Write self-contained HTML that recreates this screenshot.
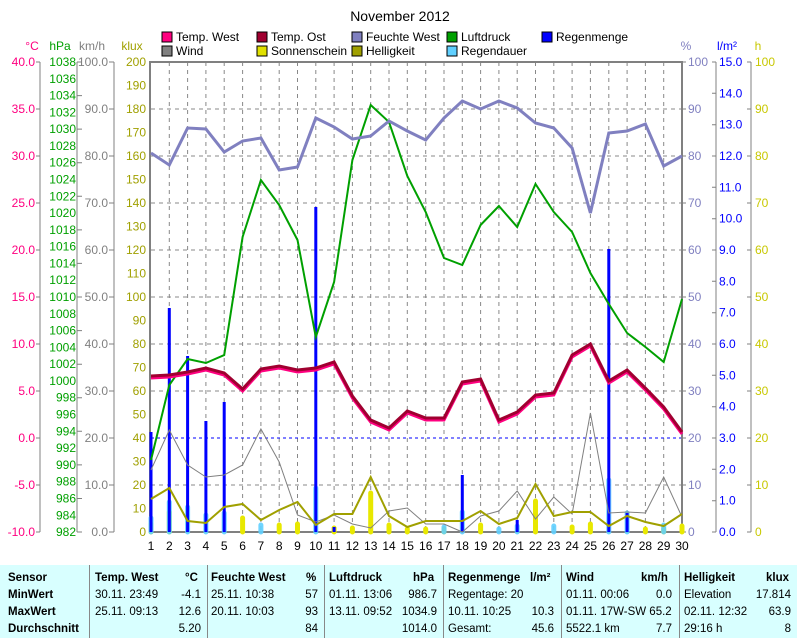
<!DOCTYPE html>
<html><head><meta charset="utf-8"><style>
body{margin:0;background:#fff;width:797px;height:638px;overflow:hidden;font-family:"Liberation Sans",sans-serif}
svg text{font-family:"Liberation Sans",sans-serif;font-size:12px}
.tb{position:absolute;left:0;top:565px;width:797px;height:73px;background:#d8ffff;font-size:11.5px;font-family:"Liberation Sans",sans-serif}
.c{position:absolute;top:0;height:73px;border-left:1px solid #888}
.r{position:absolute;white-space:nowrap}
b{font-weight:bold}
</style></head><body>
<svg width="797" height="565" style="position:absolute;left:0;top:0">
<text x="400" y="21" text-anchor="middle" style="font-size:14px">November 2012</text>
<g style="font-size:11.5px">
<rect x="162" y="32" width="10" height="10" fill="#ff0080" stroke="#000"/><text x="176" y="41">Temp. West</text>
<rect x="162" y="46" width="10" height="10" fill="#808080" stroke="#000"/><text x="176" y="55">Wind</text>
<rect x="257" y="32" width="10" height="10" fill="#a00030" stroke="#000"/><text x="271" y="41">Temp. Ost</text>
<rect x="257" y="46" width="10" height="10" fill="#e0e000" stroke="#000"/><text x="271" y="55">Sonnenschein</text>
<rect x="352" y="32" width="10" height="10" fill="#8080c0" stroke="#000"/><text x="366" y="41">Feuchte West</text>
<rect x="352" y="46" width="10" height="10" fill="#a0a000" stroke="#000"/><text x="366" y="55">Helligkeit</text>
<rect x="447" y="32" width="10" height="10" fill="#00a000" stroke="#000"/><text x="461" y="41">Luftdruck</text>
<rect x="447" y="46" width="10" height="10" fill="#60d0ff" stroke="#000"/><text x="461" y="55">Regendauer</text>
<rect x="542" y="32" width="10" height="10" fill="#0000ff" stroke="#000"/><text x="556" y="41">Regenmenge</text>
</g>
<text x="32" y="50" text-anchor="middle" fill="#ff0080">°C</text>
<text x="60" y="50" text-anchor="middle" fill="#00a000">hPa</text>
<text x="92" y="50" text-anchor="middle" fill="#808080">km/h</text>
<text x="132" y="50" text-anchor="middle" fill="#a0a000">klux</text>
<text x="686" y="50" text-anchor="middle" fill="#8080c0">%</text>
<text x="727" y="50" text-anchor="middle" fill="#0000ff">l/m²</text>
<text x="758" y="50" text-anchor="middle" fill="#c8c800">h</text>
<!-- grid -->
<g stroke="#888" stroke-dasharray="4,4" stroke-width="1">
<path d="M169.3 62V532M187.6 62V532M205.9 62V532M224.2 62V532M242.6 62V532M260.9 62V532M279.2 62V532M297.5 62V532M315.8 62V532M334.1 62V532M352.4 62V532M370.7 62V532M389 62V532M407.3 62V532M425.7 62V532M444 62V532M462.3 62V532M480.6 62V532M498.9 62V532M517.2 62V532M535.5 62V532M553.8 62V532M572.1 62V532M590.4 62V532M608.8 62V532M627.1 62V532M645.4 62V532M663.7 62V532"/>
<path d="M151 109H682M151 156H682M151 203H682M151 250H682M151 297H682M151 344H682M151 391H682M151 485H682"/>
</g>
<path d="M151 438H682" stroke="#0000ff" stroke-dasharray="3,3"/>
<!-- axes -->
<g stroke="#808080" fill="none">
<rect x="150" y="62" width="532" height="470" stroke-width="2"/>
<path d="M40 62V532M77 62V532M114 62V532M716 62V532M751 62V532"/>
<path d="M36 62h4M36 109h4M36 156h4M36 203h4M36 250h4M36 297h4M36 344h4M36 391h4M36 438h4M36 485h4M36 532h4"/>
<path d="M77 62h5M77 95.6h5M77 129.1h5M77 162.7h5M77 196.3h5M77 229.9h5M77 263.4h5M77 297h5M77 330.6h5M77 364.2h5M77 397.7h5M77 431.3h5M77 464.9h5M77 498.5h5M77 532h5"/>
<path d="M109 62h5M109 109h5M109 156h5M109 203h5M109 250h5M109 297h5M109 344h5M109 391h5M109 438h5M109 485h5M109 532h5"/>
<path d="M682 62h4M682 109h4M682 156h4M682 203h4M682 250h4M682 297h4M682 344h4M682 391h4M682 438h4M682 485h4M682 532h4"/>
<path d="M716 62h-4M716 93.3h-4M716 124.7h-4M716 156h-4M716 187.3h-4M716 218.7h-4M716 250h-4M716 281.3h-4M716 312.7h-4M716 344h-4M716 375.3h-4M716 406.7h-4M716 438h-4M716 469.3h-4M716 500.7h-4M716 532h-4"/>
<path d="M751 62h-4M751 109h-4M751 156h-4M751 203h-4M751 250h-4M751 297h-4M751 344h-4M751 391h-4M751 438h-4M751 485h-4M751 532h-4"/>
</g>
<g fill="#ff0080" text-anchor="end" dominant-baseline="central">
<text x="35" y="62">40.0</text><text x="35" y="109">35.0</text><text x="35" y="156">30.0</text><text x="35" y="203">25.0</text><text x="35" y="250">20.0</text><text x="35" y="297">15.0</text><text x="35" y="344">10.0</text><text x="35" y="391">5.0</text><text x="35" y="438">0.0</text><text x="35" y="485">-5.0</text><text x="35" y="532">-10.0</text>
</g>
<g fill="#00a000" text-anchor="end" dominant-baseline="central">
<text x="76" y="62">1038</text><text x="76" y="78.8">1036</text><text x="76" y="95.6">1034</text><text x="76" y="112.4">1032</text><text x="76" y="129.1">1030</text><text x="76" y="146">1028</text><text x="76" y="162.7">1026</text><text x="76" y="179.5">1024</text><text x="76" y="196.3">1022</text><text x="76" y="213.1">1020</text><text x="76" y="229.9">1018</text><text x="76" y="246.6">1016</text><text x="76" y="263.4">1014</text><text x="76" y="280.2">1012</text><text x="76" y="297">1010</text><text x="76" y="313.8">1008</text><text x="76" y="330.6">1006</text><text x="76" y="347.4">1004</text><text x="76" y="364.2">1002</text><text x="76" y="381">1000</text><text x="76" y="397.7">998</text><text x="76" y="414.5">996</text><text x="76" y="431.3">994</text><text x="76" y="448.1">992</text><text x="76" y="464.9">990</text><text x="76" y="481.7">988</text><text x="76" y="498.5">986</text><text x="76" y="515.3">984</text><text x="76" y="532">982</text>
</g>
<g fill="#808080" text-anchor="end" dominant-baseline="central">
<text x="108" y="62">100.0</text><text x="108" y="109">90.0</text><text x="108" y="156">80.0</text><text x="108" y="203">70.0</text><text x="108" y="250">60.0</text><text x="108" y="297">50.0</text><text x="108" y="344">40.0</text><text x="108" y="391">30.0</text><text x="108" y="438">20.0</text><text x="108" y="485">10.0</text><text x="108" y="532">0.0</text>
</g>
<g fill="#a0a000" text-anchor="end" dominant-baseline="central">
<text x="146" y="62">200</text><text x="146" y="85.5">190</text><text x="146" y="109">180</text><text x="146" y="132.5">170</text><text x="146" y="156">160</text><text x="146" y="179.5">150</text><text x="146" y="203">140</text><text x="146" y="226.5">130</text><text x="146" y="250">120</text><text x="146" y="273.5">110</text><text x="146" y="297">100</text><text x="146" y="320.5">90</text><text x="146" y="344">80</text><text x="146" y="367.5">70</text><text x="146" y="391">60</text><text x="146" y="414.5">50</text><text x="146" y="438">40</text><text x="146" y="461.5">30</text><text x="146" y="485">20</text><text x="146" y="508.5">10</text><text x="146" y="532">0</text>
</g>
<g fill="#8080c0" dominant-baseline="central">
<text x="688" y="62">100</text><text x="688" y="109">90</text><text x="688" y="156">80</text><text x="688" y="203">70</text><text x="688" y="250">60</text><text x="688" y="297">50</text><text x="688" y="344">40</text><text x="688" y="391">30</text><text x="688" y="438">20</text><text x="688" y="485">10</text><text x="688" y="532">0</text>
</g>
<g fill="#0000ff" dominant-baseline="central">
<text x="719" y="62">15.0</text><text x="719" y="93.3">14.0</text><text x="719" y="124.7">13.0</text><text x="719" y="156">12.0</text><text x="719" y="187.3">11.0</text><text x="719" y="218.7">10.0</text><text x="719" y="250">9.0</text><text x="719" y="281.3">8.0</text><text x="719" y="312.7">7.0</text><text x="719" y="344">6.0</text><text x="719" y="375.3">5.0</text><text x="719" y="406.7">4.0</text><text x="719" y="438">3.0</text><text x="719" y="469.3">2.0</text><text x="719" y="500.7">1.0</text><text x="719" y="532">0.0</text>
</g>
<g fill="#c8c800" dominant-baseline="central">
<text x="755" y="62">100</text><text x="755" y="109">90</text><text x="755" y="156">80</text><text x="755" y="203">70</text><text x="755" y="250">60</text><text x="755" y="297">50</text><text x="755" y="344">40</text><text x="755" y="391">30</text><text x="755" y="438">20</text><text x="755" y="485">10</text><text x="755" y="532">0</text>
</g>
<g text-anchor="middle">
<text x="151" y="550">1</text><text x="169.3" y="550">2</text><text x="187.6" y="550">3</text><text x="205.9" y="550">4</text><text x="224.2" y="550">5</text><text x="242.6" y="550">6</text><text x="260.9" y="550">7</text><text x="279.2" y="550">8</text><text x="297.5" y="550">9</text><text x="315.8" y="550">10</text><text x="334.1" y="550">11</text><text x="352.4" y="550">12</text><text x="370.7" y="550">13</text><text x="389" y="550">14</text><text x="407.3" y="550">15</text><text x="425.7" y="550">16</text><text x="444" y="550">17</text><text x="462.3" y="550">18</text><text x="480.6" y="550">19</text><text x="498.9" y="550">20</text><text x="517.2" y="550">21</text><text x="535.5" y="550">22</text><text x="553.8" y="550">23</text><text x="572.1" y="550">24</text><text x="590.4" y="550">25</text><text x="608.8" y="550">26</text><text x="627.1" y="550">27</text><text x="645.4" y="550">28</text><text x="663.7" y="550">29</text><text x="682" y="550">30</text>
</g>
<!-- sunshine bars -->
<g stroke="#e8e800" stroke-width="5" stroke-linecap="round">
<path d="M151 532V524M169.3 532V512M242.6 532V518M279.2 532V525M297.5 532V524M334.1 532V528M352.4 532V528M370.7 532V493M389 532V525M407.3 532V529M425.7 532V529M444 532V529M480.6 532V525M535.5 532V501M572.1 532V527M590.4 532V524M645.4 532V529M663.7 532V529M682 532V526"/>
</g>
<!-- regendauer -->
<g stroke="#60d0ff" stroke-width="5" stroke-linecap="round" opacity="0.9">
<path d="M151 532V518M169.3 532V502M187.6 532V507M205.9 532V515M224.2 532V513M260.9 532V525M315.8 532V488M444 532V527M462.3 532V512M498.9 532V529M517.2 532V526M553.8 532V526M608.8 532V480M627.1 532V513M663.7 532V525"/>
</g>
<!-- rain -->
<g stroke="#0000ff" stroke-width="3">
<path d="M151 532V432M169.3 532V308M187.6 532V356M205.9 532V421M224.2 532V402M315.8 532V207M334.1 532V527M462.3 532V475M517.2 532V520M608.8 532V249M627.1 532V513"/>
</g>
<!-- wind -->
<polyline fill="none" stroke="#808080" stroke-width="1" points="151,470 169.3,430 187.6,465 205.9,477 224.2,475 242.6,465 260.9,429 279.2,462 297.5,515 315.8,522 334.1,515 352.4,524 370.7,528 389,511 407.3,508 425.7,524 444,524 462.3,532 480.6,516 498.9,511 517.2,491 535.5,519 553.8,497 572.1,514 590.4,413 608.8,513 627.1,512 645.4,513 663.7,477 682,517"/>
<!-- helligkeit -->
<polyline fill="none" stroke="#a0a000" stroke-width="2" points="151,499 169.3,488 187.6,521 205.9,523 224.2,507 242.6,504 260.9,520 279.2,510 297.5,502 315.8,525 334.1,514 352.4,514 370.7,477 389,516 407.3,527 425.7,521 444,521 462.3,521 480.6,511 498.9,524 517.2,518 535.5,484 553.8,516 572.1,512 590.4,512 608.8,526 627.1,516 645.4,522 663.7,526 682,514"/>
<!-- pressure -->
<polyline fill="none" stroke="#00a000" stroke-width="2" points="151,460 169.3,385 187.6,359 205.9,363 224.2,355 242.6,237 260.9,180 279.2,205 297.5,240 315.8,337 334.1,282 352.4,160 370.7,105 389,122 407.3,176 425.7,212 444,258 462.3,265 480.6,225 498.9,206 517.2,227 535.5,184 553.8,212 572.1,232 590.4,273 608.8,304 627.1,333 645.4,347 663.7,362 682,299"/>
<!-- humidity -->
<polyline fill="none" stroke="#8080c0" stroke-width="3" points="151,153 169.3,165 187.6,128 205.9,129 224.2,152 242.6,141 260.9,138 279.2,170 297.5,167 315.8,118 334.1,127 352.4,139 370.7,136 389,121 407.3,131 425.7,140 444,118 462.3,101 480.6,109 498.9,101 517.2,108 535.5,123 553.8,128 572.1,148 590.4,213 608.8,133 627.1,131 645.4,124 663.7,166 682,156"/>
<!-- temps -->
<polyline fill="none" stroke="#ff0080" stroke-width="3" points="151,378 169.3,377 187.6,374 205.9,370 224.2,375 242.6,391 260.9,371 279.2,368 297.5,372 315.8,370 334.1,364 352.4,398 370.7,422 389,430 407.3,413 425.7,420 444,420 462.3,384 480.6,381 498.9,422 517.2,414 535.5,397 553.8,395 572.1,357 590.4,346 608.8,383 627.1,372 645.4,390 663.7,409 682,434"/>
<polyline fill="none" stroke="#a00030" stroke-width="3" points="151,376 169.3,375 187.6,372 205.9,368 224.2,373 242.6,389 260.9,369 279.2,366 297.5,370 315.8,368 334.1,362 352.4,396 370.7,420 389,428 407.3,411 425.7,418 444,418 462.3,382 480.6,379 498.9,420 517.2,412 535.5,395 553.8,393 572.1,355 590.4,344 608.8,381 627.1,370 645.4,388 663.7,407 682,432"/>
</svg>
<div class="tb">
<div class="c" style="left:89px"></div><div class="c" style="left:207px"></div><div class="c" style="left:324px"></div><div class="c" style="left:443px"></div><div class="c" style="left:561px"></div><div class="c" style="left:679px"></div>
<div class="r" style="left:8px;top:7px"><b>Sensor</b></div>
<div class="r" style="left:8px;top:24px"><b>MinWert</b></div>
<div class="r" style="left:8px;top:41px"><b>MaxWert</b></div>
<div class="r" style="left:8px;top:58px"><b>Durchschnitt</b></div>
<div class="r" style="left:95px;top:7px"><b>Temp. West</b></div><div class="r" style="left:185px;top:7px"><b>°C</b></div>
<div class="r" style="left:95px;top:24px">30.11. 23:49</div><div class="r" style="right:596px;top:24px">-4.1</div>
<div class="r" style="left:95px;top:41px">25.11. 09:13</div><div class="r" style="right:596px;top:41px">12.6</div>
<div class="r" style="right:596px;top:58px">5.20</div>
<div class="r" style="left:211px;top:7px"><b>Feuchte West</b></div><div class="r" style="left:306px;top:7px"><b>%</b></div>
<div class="r" style="left:211px;top:24px">25.11. 10:38</div><div class="r" style="right:479px;top:24px">57</div>
<div class="r" style="left:211px;top:41px">20.11. 10:03</div><div class="r" style="right:479px;top:41px">93</div>
<div class="r" style="right:479px;top:58px">84</div>
<div class="r" style="left:329px;top:7px"><b>Luftdruck</b></div><div class="r" style="left:413px;top:7px"><b>hPa</b></div>
<div class="r" style="left:329px;top:24px">01.11. 13:06</div><div class="r" style="right:360px;top:24px">986.7</div>
<div class="r" style="left:329px;top:41px">13.11. 09:52</div><div class="r" style="right:360px;top:41px">1034.9</div>
<div class="r" style="right:360px;top:58px">1014.0</div>
<div class="r" style="left:448px;top:7px"><b>Regenmenge</b></div><div class="r" style="left:530px;top:7px"><b>l/m²</b></div>
<div class="r" style="left:448px;top:24px">Regentage: 20</div>
<div class="r" style="left:448px;top:41px">10.11. 10:25</div><div class="r" style="right:243px;top:41px">10.3</div>
<div class="r" style="left:448px;top:58px">Gesamt:</div><div class="r" style="right:243px;top:58px">45.6</div>
<div class="r" style="left:566px;top:7px"><b>Wind</b></div><div class="r" style="left:641px;top:7px"><b>km/h</b></div>
<div class="r" style="left:566px;top:24px">01.11. 00:06</div><div class="r" style="right:125px;top:24px">0.0</div>
<div class="r" style="left:566px;top:41px">01.11. 17W-SW 65.2</div>
<div class="r" style="left:566px;top:58px">5522.1 km</div><div class="r" style="right:125px;top:58px">7.7</div>
<div class="r" style="left:684px;top:7px"><b>Helligkeit</b></div><div class="r" style="left:766px;top:7px"><b>klux</b></div>
<div class="r" style="left:684px;top:24px">Elevation</div><div class="r" style="right:6px;top:24px">17.814</div>
<div class="r" style="left:684px;top:41px">02.11. 12:32</div><div class="r" style="right:6px;top:41px">63.9</div>
<div class="r" style="left:684px;top:58px">29:16 h</div><div class="r" style="right:6px;top:58px">8</div>
</div>
</body></html>
